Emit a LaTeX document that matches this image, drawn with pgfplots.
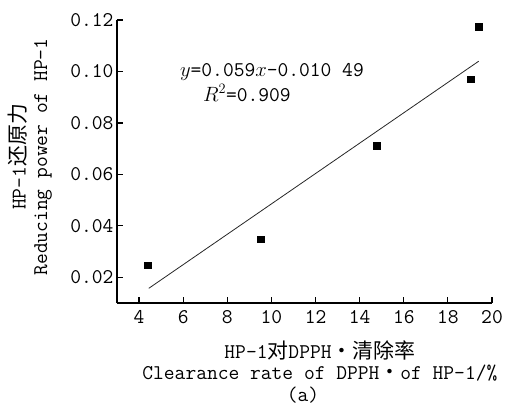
\documentclass[border=0pt]{standalone}
\usepackage{fontspec}
\newfontfamily\cjk{Noto Sans CJK SC}
\usepackage{pgfplots}
\pgfplotsset{compat=1.18}
\newcommand{\fs}{\fontsize{21}{21.5}\selectfont\ttfamily}
\begin{document}
\begin{tikzpicture}
\path[use as bounding box] (-117bp,-104bp) rectangle (389bp,303bp);
\begin{axis}[
    scale only axis,
    width=375bp, height=283bp,
    xmin=3, xmax=20, ymin=0.01, ymax=0.12,
    clip mode=individual,
    axis lines*=left,
    axis line style={line width=1.3bp, black},
    tick align=inside,
    major tick length=6bp,
    tick style={line width=1.2bp, black},
    xtick={4,6,8,10,12,14,16,18,20},
    ytick={0.02,0.04,0.06,0.08,0.10,0.12},
    ticklabel style={font=\fs},
    /pgf/number format/assume math mode=true,
    yticklabel style={/pgf/number format/.cd, fixed, fixed zerofill, precision=2},
    xticklabel style={yshift=-4bp},
    xlabel={HP-1{\cjk 对}DPPH{\cjk •}{\cjk 清除率}\\Clearance rate of DPPH{\cjk •}of HP-1/\%},
    xlabel style={font=\fs, align=center, at={(axis description cs:0.541,-0.12)}, anchor=north},
    ylabel={HP-1{\cjk 还原力}\\Reducing power of HP-1},
    ylabel style={font=\fs, align=center, at={(axis description cs:-0.232,0.516)}, anchor=center},
]
\addplot[only marks, mark=square*, mark size=3.4bp, black] coordinates {
    (4.4, 0.0247)
    (9.5, 0.0348)
    (14.76, 0.071)
    (19.02, 0.097)
    (19.38, 0.1173)
};
\addplot[black!85, line width=0.8bp] coordinates {(4.44,0.0157) (19.4,0.104)};
\node[anchor=base west, font=\fs] at (axis cs:5.7,0.0982) {$y$=0.059$x$-0.010 49};
\node[anchor=base west, font=\fs] at (axis cs:6.74,0.0885) {$R^2$=0.909};
\node[font=\fs, anchor=center] at (axis description cs:0.496,-0.325) {(a)};
\end{axis}
\end{tikzpicture}
\end{document}
